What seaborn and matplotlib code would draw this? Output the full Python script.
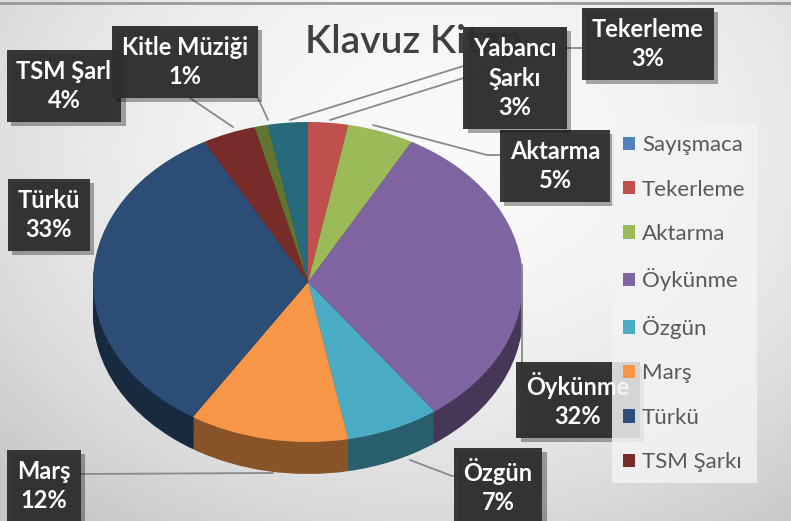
import numpy as np
import matplotlib.pyplot as plt
import matplotlib.colors as mcolors
from matplotlib import patheffects as pe
import seaborn as sns

# Data (percent shares, clockwise from 12 o'clock)
categories = ["Sayışmaca", "Tekerleme", "Aktarma", "Öykünme", "Özgün",
              "Marş", "Türkü", "TSM Şarkı", "Kitle Müziği", "Yabancı Şarkı"]
values = [0, 3, 5, 32, 7, 12, 33, 4, 1, 3]
# label text as shown in the boxes (TSM is cut off in the original)
box_names = ["Sayışmaca", "Tekerleme", "Aktarma", "Öykünme", "Özgün",
             "Marş", "Türkü", "TSM Şarl", "Kitle Müziği", "Yabancı\nŞarkı"]
slice_colors = ["#4F81BD", "#C0504D", "#9BBB59", "#8064A2", "#4BACC6",
                "#F79646", "#2C4D75", "#772C2A", "#5F7530", "#276A7C"]
title = "Klavuz Kitap"
legend_count = 8

sns.set_style("white")
plt.rcParams['font.family'] = ['Lato', 'DejaVu Sans']

W, H = 791, 521
fig = plt.figure(figsize=(7.91, 5.21), dpi=100)

# background gradient
bg = fig.add_axes([0, 0, 1, 1], zorder=-2)
yy, xx = np.mgrid[0:H, 0:W]
d = np.sqrt(((xx - 440) / 560) ** 2 + ((yy - 150) / 430) ** 2)
shade = np.clip(0.975 - 0.17 * d ** 2, 0.78, 0.98)
bg.imshow(shade, cmap='gray', vmin=0, vmax=1, extent=(0, W, H, 0), aspect='auto')
bg.axis('off')

# pie axes (squashed to look tilted)
left, top, right, bottom = 93, 122, 523, 474
pax = fig.add_axes([left / W, 1 - bottom / H, (right - left) / W, (bottom - top) / H], zorder=-1)
depth = 0.2
side_colors = [tuple(np.array(mcolors.to_rgb(c)) * 0.55) for c in slice_colors]
n_layers = 14
for k in range(n_layers):
    off = -depth + k * depth / n_layers
    pax.pie(values, colors=side_colors, startangle=90, counterclock=False,
            center=(0, off), radius=1, wedgeprops=dict(linewidth=0))
wedges, _ = pax.pie(values, colors=slice_colors, startangle=90, counterclock=False,
                    wedgeprops=dict(linewidth=0))
pax.set_aspect('auto')
pax.set_xlim(-1, 1)
pax.set_ylim(-1 - depth, 1)
pax.axis('off')

# overlay in pixel coordinates for title, leader lines and labels
ov = fig.add_axes([0, 0, 1, 1], zorder=1)
ov.set_xlim(0, W)
ov.set_ylim(H, 0)
ov.axis('off')
ov.patch.set_alpha(0)

ov.plot([0, W], [3, 3], color='#9a9a9a', lw=2, zorder=1)
ov.text(305, 53, title, fontsize=28, color='#404040', ha='left', va='baseline',
        weight='semibold', zorder=2)

label_pos = {
    "Tekerleme": (648, 44), "Aktarma": (555, 166), "Öykünme": (578, 400),
    "Özgün": (498, 486), "Marş": (44, 486), "Türkü": (49, 215),
    "TSM Şarkı": (64, 86), "Kitle Müziği": (185, 62), "Yabancı Şarkı": (515, 78),
}
leaders = {
    "Tekerleme": [(330, 120), (470, 76), (565, 48), (582, 48)],
    "Yabancı Şarkı": [(290, 120), (470, 64)],
    "Aktarma": [(373, 125), (487, 155), (505, 155)],
    "Öykünme": [(522, 265), (522, 386), (520, 386)],
    "Özgün": [(410, 460), (452, 476), (462, 476)],
    "Marş": [(80, 474), (273, 473)],
    "Kitle Müziği": [(258, 98), (268, 120)],
    "TSM Şarkı": [(190, 98), (233, 127)],
}
for name, pts in leaders.items():
    xs, ys = zip(*pts)
    ov.plot(xs, ys, color='#8a8a8a', lw=1.3, zorder=3)

for name, disp, v in zip(categories, box_names, values):
    if v == 0:
        continue
    x, y = label_pos[name]
    t = ov.text(x, y, f"{disp}\n{v}%", ha='center', va='center', ma='center',
                color='white', fontsize=17, weight='bold', linespacing=1.35, zorder=4,
                bbox=dict(boxstyle='square,pad=0.42', fc='#2e2e2e', ec='none', alpha=0.95))
    t.get_bbox_patch().set_path_effects([pe.SimplePatchShadow(offset=(3, -3), alpha=0.35),
                                         pe.Normal()])

fig.legend(wedges[:legend_count], categories[:legend_count], loc='upper left',
           bbox_to_anchor=(612 / W, 1 - 124 / H), frameon=True, facecolor='#f3f3f3',
           edgecolor='none', framealpha=0.85, fontsize=16, labelcolor='#595959',
           handlelength=0.55, handleheight=0.55, handletextpad=0.3,
           labelspacing=1.1, borderpad=0.5, fancybox=False, borderaxespad=0)

fig.savefig('out.png', dpi=100)
